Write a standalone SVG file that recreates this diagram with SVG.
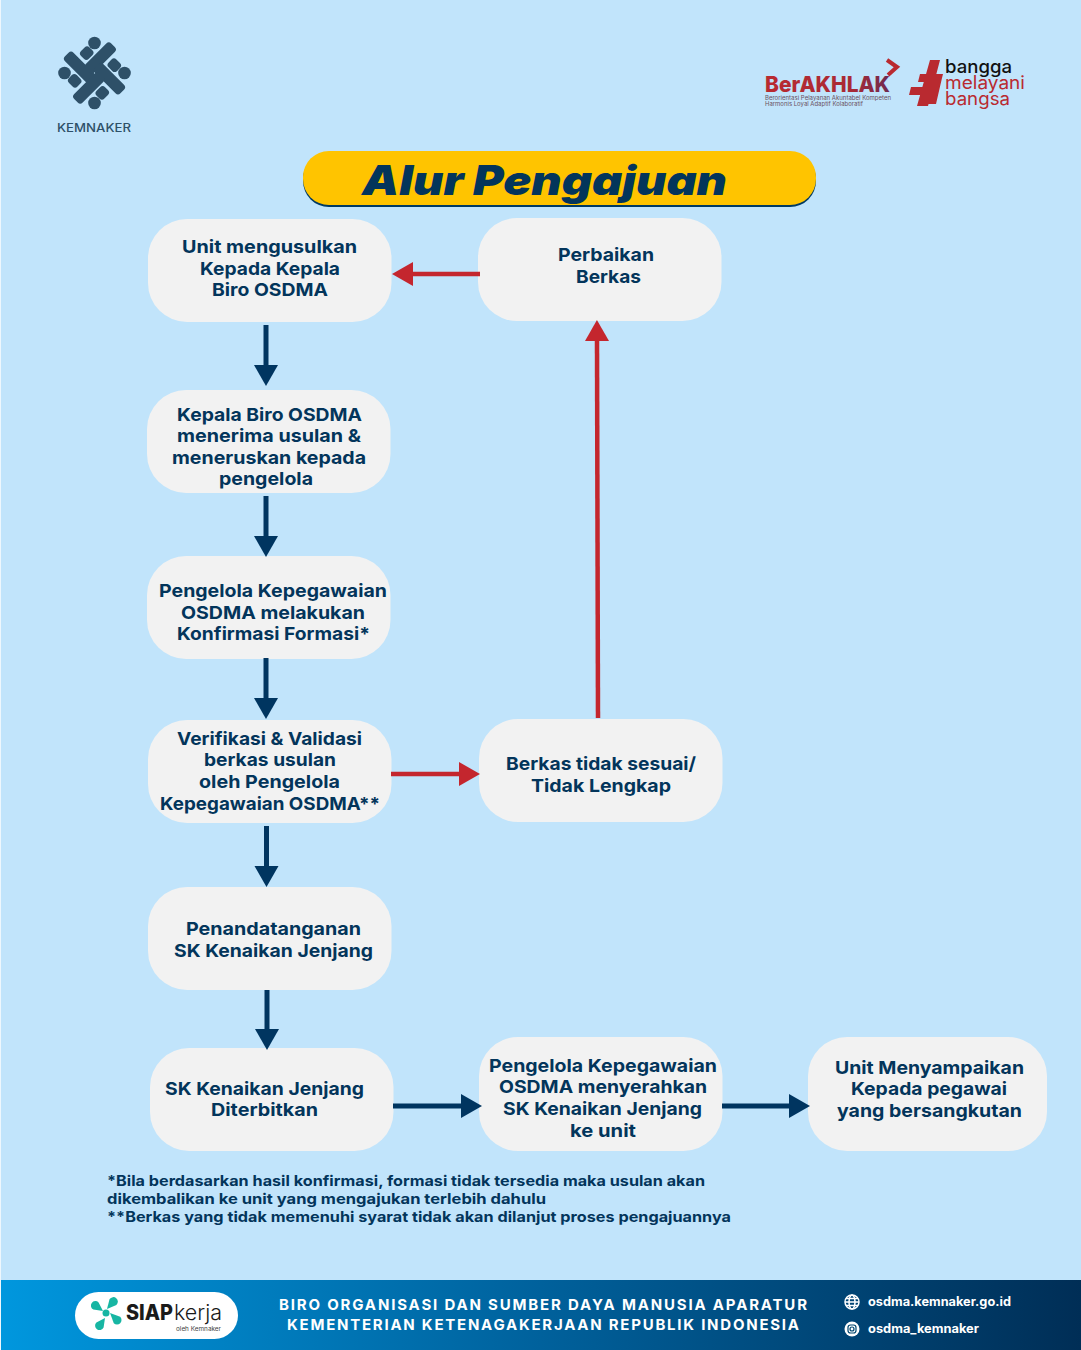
<svg xmlns="http://www.w3.org/2000/svg" width="1081" height="1350" viewBox="0 0 1081 1350">
<style>
.box{fill:#f2f2f2}
.t{font-family:Inter,"Open Sans","Liberation Sans",sans-serif;font-weight:700;font-size:18px;fill:#03355b}
.fn{font-family:Inter,"Open Sans","Liberation Sans",sans-serif;font-weight:700;font-size:14.500px;fill:#03355b}
.ft{font-family:Inter,"Open Sans","Liberation Sans",sans-serif;font-weight:700;font-size:15px;fill:#fff}
.link{font-family:Inter,"Open Sans","Liberation Sans",sans-serif;font-weight:700;font-size:12.500px;fill:#fff}
.logo{font-family:Inter,"Open Sans","Liberation Sans",sans-serif}
.nav{stroke:#003560;stroke-width:5;fill:none}
.red{stroke:#c4262e;stroke-width:4.500;fill:none}
</style>
<defs>
<marker id="an" markerUnits="userSpaceOnUse" markerWidth="22" markerHeight="26" refX="0" refY="13" orient="auto"><path d="M0 1L21 13L0 25Z" fill="#003560"/></marker>
<marker id="ar" markerUnits="userSpaceOnUse" markerWidth="22" markerHeight="26" refX="0" refY="13" orient="auto"><path d="M0 1L21 13L0 25Z" fill="#c4262e"/></marker>
<linearGradient id="fg" x1="0" x2="1" y1="0" y2="0"><stop offset="0" stop-color="#0097de"/><stop offset="0.5" stop-color="#00619c"/><stop offset="1" stop-color="#002e56"/></linearGradient>
<linearGradient id="bk" x1="0" x2="1" y1="0" y2="0"><stop offset="0" stop-color="#b92a30"/><stop offset="0.7" stop-color="#a82a36"/><stop offset="1" stop-color="#6d2b52"/></linearGradient>
<g id="kq" fill="#2e5068"><rect x="-32.700" y="0.500" width="36" height="12" rx="3.500"/><rect x="-25" y="-14.500" width="11" height="12" rx="3.500"/></g>
</defs>
<rect width="1081" height="1350" fill="#c1e4fb"/>
<g id="logo-kemnaker">
<g fill="#2e5068"><circle cx="94.500" cy="43" r="6.300"/><circle cx="64.500" cy="73" r="6.300"/><circle cx="124.500" cy="73" r="6.300"/><circle cx="94.500" cy="103" r="6.300"/></g>
<g transform="translate(94.500 73)">
<use href="#kq" transform="rotate(45)"/>
<use href="#kq" transform="rotate(135)"/>
<use href="#kq" transform="rotate(225)"/>
<use href="#kq" transform="rotate(315)"/>
</g>
<text class="logo" x="57" y="132" font-size="11.500" font-weight="500" fill="#2e5068" textLength="74" lengthAdjust="spacingAndGlyphs">KEMNAKER</text>
</g>
<g id="logo-berakhlak">
<path d="M887 60L897 67L888 75" fill="none" stroke="#b92a30" stroke-width="4"/>
<text class="logo" x="765" y="92" font-size="22" font-weight="800" fill="url(#bk)" textLength="125" lengthAdjust="spacingAndGlyphs">BerAKHLAK</text>
<text class="logo" x="765" y="100" font-size="5.500" fill="#6a5060" textLength="126" lengthAdjust="spacingAndGlyphs">Berorientasi Pelayanan Akuntabel Kompeten</text>
<text class="logo" x="765" y="106" font-size="5.500" fill="#6a5060" textLength="98" lengthAdjust="spacingAndGlyphs">Harmonis Loyal Adaptif Kolaboratif</text>
</g>
<g id="logo-bangga">
<path fill="#b92a30" d="M930 60H940L928 106H917ZM920 74H943L941 82H918ZM911 87H937L935 95H909ZM934 78H942L936 104H928Z"/>
<text class="logo" x="945" y="73" font-size="18" font-weight="500" fill="#111" textLength="67" lengthAdjust="spacingAndGlyphs">bangga</text>
<text class="logo" x="945" y="89" font-size="18" font-weight="400" fill="#b92a30" textLength="80" lengthAdjust="spacingAndGlyphs">melayani</text>
<text class="logo" x="945" y="105" font-size="18" font-weight="400" fill="#b92a30" textLength="65" lengthAdjust="spacingAndGlyphs">bangsa</text>
</g>
<g id="title">
<rect x="303" y="153" width="513" height="54" rx="26" fill="#003a63"/>
<rect x="303" y="151" width="513" height="54" rx="26" fill="#ffc400"/>
<text class="logo" x="362" y="195" font-size="41" font-weight="900" font-style="italic" fill="#03355b" textLength="365" lengthAdjust="spacingAndGlyphs">Alur Pengajuan</text>
</g>
<g id="n1"><rect class="box" x="148" y="219" width="243.500" height="103" rx="39"/>
<text class="t" x="182" y="253" textLength="175" lengthAdjust="spacingAndGlyphs">Unit mengusulkan</text>
<text class="t" x="200" y="275" textLength="140" lengthAdjust="spacingAndGlyphs">Kepada Kepala</text>
<text class="t" x="212" y="296" textLength="116" lengthAdjust="spacingAndGlyphs">Biro OSDMA</text></g>
<g id="n2"><rect class="box" x="147" y="390" width="243.500" height="103" rx="39"/>
<text class="t" x="177" y="421" textLength="185" lengthAdjust="spacingAndGlyphs">Kepala Biro OSDMA</text>
<text class="t" x="177" y="442" textLength="184" lengthAdjust="spacingAndGlyphs">menerima usulan &amp;</text>
<text class="t" x="172" y="464" textLength="194" lengthAdjust="spacingAndGlyphs">meneruskan kepada</text>
<text class="t" x="219" y="485" textLength="94" lengthAdjust="spacingAndGlyphs">pengelola</text></g>
<g id="n3"><rect class="box" x="147" y="556" width="243.500" height="103" rx="39"/>
<text class="t" x="159" y="597" textLength="228" lengthAdjust="spacingAndGlyphs">Pengelola Kepegawaian</text>
<text class="t" x="181" y="619" textLength="184" lengthAdjust="spacingAndGlyphs">OSDMA melakukan</text>
<text class="t" x="177" y="640" textLength="193" lengthAdjust="spacingAndGlyphs">Konfirmasi Formasi*</text></g>
<g id="n4"><rect class="box" x="148" y="720" width="243.500" height="103" rx="39"/>
<text class="t" x="177" y="745" textLength="185" lengthAdjust="spacingAndGlyphs">Verifikasi &amp; Validasi</text>
<text class="t" x="204" y="766" textLength="132" lengthAdjust="spacingAndGlyphs">berkas usulan</text>
<text class="t" x="199" y="788" textLength="141" lengthAdjust="spacingAndGlyphs">oleh Pengelola</text>
<text class="t" x="160" y="810" textLength="220" lengthAdjust="spacingAndGlyphs">Kepegawaian OSDMA**</text></g>
<g id="n5"><rect class="box" x="148" y="887" width="243.500" height="103" rx="39"/>
<text class="t" x="186" y="935" textLength="175" lengthAdjust="spacingAndGlyphs">Penandatanganan</text>
<text class="t" x="174" y="957" textLength="199" lengthAdjust="spacingAndGlyphs">SK Kenaikan Jenjang</text></g>
<g id="n6"><rect class="box" x="150" y="1048" width="243.500" height="103" rx="39"/>
<text class="t" x="165" y="1095" textLength="199" lengthAdjust="spacingAndGlyphs">SK Kenaikan Jenjang</text>
<text class="t" x="211" y="1116" textLength="107" lengthAdjust="spacingAndGlyphs">Diterbitkan</text></g>
<g id="n7"><rect class="box" x="478" y="218" width="243.500" height="103" rx="39"/>
<text class="t" x="558" y="261" textLength="96" lengthAdjust="spacingAndGlyphs">Perbaikan</text>
<text class="t" x="576" y="283" textLength="65" lengthAdjust="spacingAndGlyphs">Berkas</text></g>
<g id="n8"><rect class="box" x="479" y="719" width="243.500" height="103" rx="39"/>
<text class="t" x="506" y="770" textLength="190" lengthAdjust="spacingAndGlyphs">Berkas tidak sesuai/</text>
<text class="t" x="531" y="792" textLength="140" lengthAdjust="spacingAndGlyphs">Tidak Lengkap</text></g>
<g id="n9"><rect class="box" x="479" y="1037" width="243.500" height="114" rx="39"/>
<text class="t" x="489" y="1072" textLength="228" lengthAdjust="spacingAndGlyphs">Pengelola Kepegawaian</text>
<text class="t" x="499" y="1093" textLength="208" lengthAdjust="spacingAndGlyphs">OSDMA menyerahkan</text>
<text class="t" x="503" y="1115" textLength="199" lengthAdjust="spacingAndGlyphs">SK Kenaikan Jenjang</text>
<text class="t" x="570" y="1137" textLength="66" lengthAdjust="spacingAndGlyphs">ke unit</text></g>
<g id="n10"><rect class="box" x="808" y="1037" width="239" height="114" rx="39"/>
<text class="t" x="835" y="1074" textLength="189" lengthAdjust="spacingAndGlyphs">Unit Menyampaikan</text>
<text class="t" x="851" y="1095" textLength="156" lengthAdjust="spacingAndGlyphs">Kepada pegawai</text>
<text class="t" x="837" y="1117" textLength="185" lengthAdjust="spacingAndGlyphs">yang bersangkutan</text></g>
<g id="connectors">
<path class="nav" d="M266 325V365" marker-end="url(#an)"/>
<path class="nav" d="M266 496V536" marker-end="url(#an)"/>
<path class="nav" d="M266 658V698" marker-end="url(#an)"/>
<path class="nav" d="M266.500 826V866" marker-end="url(#an)"/>
<path class="nav" d="M267 990V1029" marker-end="url(#an)"/>
<path class="nav" d="M393 1106H461" marker-end="url(#an)"/>
<path class="nav" d="M722 1106H789" marker-end="url(#an)"/>
<path class="red" d="M480 274H413" marker-end="url(#ar)"/>
<path class="red" d="M391 774H459" marker-end="url(#ar)"/>
<path class="red" d="M598 718L597 341" marker-end="url(#ar)"/>
</g>
<g id="notes">
<text class="fn" x="107" y="1186" textLength="598" lengthAdjust="spacingAndGlyphs">*Bila berdasarkan hasil konfirmasi, formasi tidak tersedia maka usulan akan</text>
<text class="fn" x="107" y="1204" textLength="439" lengthAdjust="spacingAndGlyphs">dikembalikan ke unit yang mengajukan terlebih dahulu</text>
<text class="fn" x="107" y="1222" textLength="624" lengthAdjust="spacingAndGlyphs">**Berkas yang tidak memenuhi syarat tidak akan dilanjut proses pengajuannya</text>
</g>
<g id="footer">
<rect y="1280" width="1081" height="70" fill="url(#fg)"/>
<rect x="75" y="1292" width="163" height="47" rx="23.500" fill="#fff"/>
<g fill="#17b6a3">
<circle cx="106" cy="1313" r="3.500"/>
<path d="M103 1311L93.400 1309.600A4.500 4.500 0 1 1 98.600 1302.400Z"/>
<path d="M107 1309L109.600 1299.100A4.500 4.500 0 1 1 116.400 1304.900Z"/>
<path d="M110 1313L120.200 1316.800A4.500 4.500 0 1 1 113.800 1323.200Z"/>
<path d="M105 1318L103.600 1327.600A4.500 4.500 0 1 1 96.400 1322.400Z"/>
</g>
<text class="logo" x="126" y="1320" font-size="21" font-weight="800" fill="#1a1a1a" textLength="47" lengthAdjust="spacingAndGlyphs">SIAP</text>
<text class="logo" x="174" y="1320" font-size="21" font-weight="300" fill="#1a1a1a" textLength="48" lengthAdjust="spacingAndGlyphs">kerja</text>
<text class="logo" x="176" y="1331" font-size="5.500" fill="#444" textLength="45" lengthAdjust="spacingAndGlyphs">oleh Kemnaker</text>
<text class="ft" x="279" y="1310" textLength="528" lengthAdjust="spacing">BIRO ORGANISASI DAN SUMBER DAYA MANUSIA APARATUR</text>
<text class="ft" x="287" y="1330" textLength="512" lengthAdjust="spacing">KEMENTERIAN KETENAGAKERJAAN REPUBLIK INDONESIA</text>
<g fill="none" stroke="#fff" stroke-width="1.500"><circle cx="852" cy="1302" r="7"/><ellipse cx="852" cy="1302" rx="3" ry="7"/><path d="M845 1302H859M846 1298.500H858M846 1305.500H858"/></g>
<circle cx="852" cy="1329" r="7.500" fill="#fff"/>
<rect x="848" y="1325" width="8" height="8" rx="2.500" fill="none" stroke="#00466f" stroke-width="1.200"/>
<circle cx="852" cy="1329" r="2" fill="none" stroke="#00466f" stroke-width="1.200"/>
<text class="link" x="868" y="1306" textLength="143" lengthAdjust="spacingAndGlyphs">osdma.kemnaker.go.id</text>
<text class="link" x="868" y="1333" textLength="111" lengthAdjust="spacingAndGlyphs">osdma_kemnaker</text>
</g>
<rect width="1" height="1350" fill="#eef7fd"/>
</svg>
